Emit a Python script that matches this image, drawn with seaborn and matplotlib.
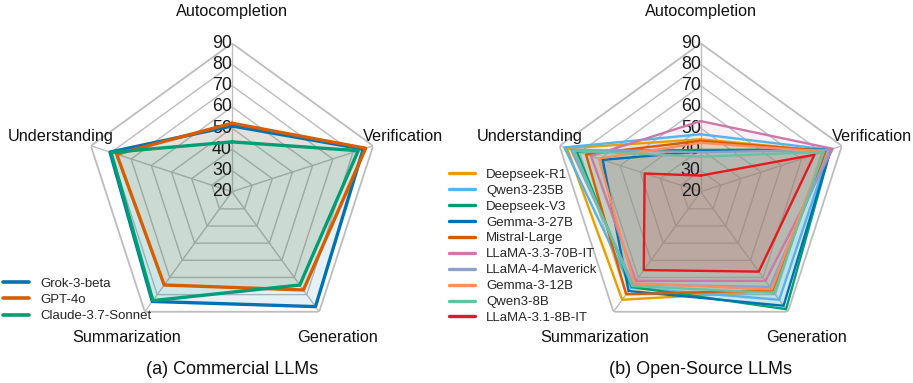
import numpy as np
import pandas as pd
import matplotlib
matplotlib.use("Agg")
import matplotlib.pyplot as plt
import seaborn as sns
from matplotlib.lines import Line2D

sns.set_theme(style="white")
plt.rcParams['font.family'] = ['Liberation Sans', 'DejaVu Sans']

categories = ["Autocompletion", "Verification", "Generation", "Summarization", "Understanding"]
r_ticks = [20, 30, 40, 50, 60, 70, 80, 90]

# Commercial LLMs
commercial_models = ["Grok-3-beta", "GPT-4o", "Claude-3.7-Sonnet"]
grok_3_beta = [51.0, 85.1, 87.0, 84.0, 80.5]
gpt_4o = [52.3, 86.3, 77.3, 74.4, 77.2]
claude_3_7 = [43.5, 82.6, 74.4, 83.5, 80.0]
commercial_values = [grok_3_beta, gpt_4o, claude_3_7]
commercial_colors = ["#0072B2", "#D55E00", "#009E73"]

# Open-source LLMs
open_models = ["Deepseek-R1", "Qwen3-235B", "Deepseek-V3", "Gemma-3-27B", "Mistral-Large",
               "LLaMA-3.3-70B-IT", "LLaMA-4-Maverick", "Gemma-3-12B", "Qwen3-8B", "LLaMA-3.1-8B-IT"]
deepseek_r1 = [44.7, 82.0, 78.0, 83.0, 86.3]
qwen3_235b = [47.1, 84.0, 83.0, 76.0, 87.6]
deepseek_v3 = [39.7, 84.5, 88.5, 75.5, 81.5]
gemma_3_27b = [39.0, 84.5, 86.5, 77.9, 68.6]
mistral_large = [44.0, 82.0, 77.5, 79.8, 76.9]
llama_3_3_70b = [53.3, 85.5, 72.0, 72.0, 74.4]
llama_4_maverick = [38.6, 84.0, 75.5, 74.0, 84.3]
gemma_3_12b = [43.1, 81.0, 77.0, 73.4, 70.6]
qwen3_8b = [36.5, 81.0, 79.0, 75.0, 82.7]
llama_3_1_8b = [27.6, 76.4, 66.6, 65.7, 47.8]
open_values = [deepseek_r1, qwen3_235b, deepseek_v3, gemma_3_27b, mistral_large,
               llama_3_3_70b, llama_4_maverick, gemma_3_12b, qwen3_8b, llama_3_1_8b]
open_colors = ["#E69F00", "#56B4E9", "#009E73", "#0072B2", "#D55E00",
               "#CC79A7", "#8DA0CB", "#FC8D62", "#66C2A5", "#E41A1C"]

W, H = 913, 383
fig = plt.figure(figsize=(W / 100, H / 100), dpi=100)

n = len(categories)
angles = np.linspace(0, 2 * np.pi, n, endpoint=False)
angles_closed = np.concatenate([angles, angles[:1]])


def make_long(models, values):
    rows = []
    for m, vals in zip(models, values):
        closed = list(vals) + [vals[0]]
        for i, (a, v) in enumerate(zip(angles_closed, closed)):
            rows.append({"model": m, "theta": a, "value": v, "order": i})
    return pd.DataFrame(rows)


def radar(ax, models, values, colors, lw):
    ax.set_theta_offset(np.pi / 2)
    ax.set_theta_direction(-1)
    ax.set_ylim(20, 90)
    ax.set_xticks([])
    ax.set_yticks([])
    ax.grid(False)
    ax.spines['polar'].set_visible(False)
    ax.set_facecolor('none')
    # polygon grid
    for r in r_ticks[1:]:
        ax.plot(angles_closed, [r] * (n + 1), color="#bdbdbd",
                lw=1.3 if r == r_ticks[-1] else 1.0, zorder=0.5)
    for a in angles:
        ax.plot([a, a], [r_ticks[0], r_ticks[-1]], color="#bdbdbd", lw=1.0, zorder=0.5)
    df = make_long(models, values)
    for m, vals, c in zip(models, values, colors):
        closed = list(vals) + [vals[0]]
        ax.fill(angles_closed, closed, color=c, alpha=0.1, lw=0, zorder=1)
    sns.lineplot(data=df, x="theta", y="value", hue="model", hue_order=models,
                 palette=colors, sort=False, estimator=None, units="model",
                 lw=lw, legend=False, ax=ax, zorder=3)
    ax.set_xlabel("")
    ax.set_ylabel("")
    for r in r_ticks:
        ax.text(0, r, str(r), ha="right", va="center", fontsize=12.8,
                color="#1a1a1a", zorder=2)
    for a, lab in zip(angles, categories):
        ax.text(a, 104.9, lab, ha="center", va="center", fontsize=11.7, color="#111111")


R = 148.4
cy = 191.7
for cx, models, values, colors, lw in [(232.0, commercial_models, commercial_values, commercial_colors, 2.4),
                                       (700.7, open_models, open_values, open_colors, 1.7)]:
    ax = fig.add_axes([(cx - R) / W, (H - cy - R) / H, 2 * R / W, 2 * R / H], projection="polar")
    radar(ax, models, values, colors, lw)

fig.text(232 / W, 1 - 369 / H, "(a) Commercial LLMs", ha="center", va="center", fontsize=13, color="#111111")
fig.text(700.5 / W, 1 - 369 / H, "(b) Open-Source LLMs", ha="center", va="center", fontsize=13, color="#111111")

h1 = [Line2D([], [], color=c, lw=2.6) for c in commercial_colors]
fig.legend(h1, commercial_models, loc="upper left", bbox_to_anchor=(3 / W, 1 - 277.5 / H),
           frameon=False, borderpad=0, borderaxespad=0, handlelength=2.0, handletextpad=0.8,
           labelspacing=0.3, fontsize=9.5)
h2 = [Line2D([], [], color=c, lw=2.4) for c in open_colors]
fig.legend(h2, open_models, loc="upper left", bbox_to_anchor=(449 / W, 1 - 168.5 / H),
           frameon=False, borderpad=0, borderaxespad=0, handlelength=2.0, handletextpad=0.8,
           labelspacing=0.28, fontsize=9.5)

fig.savefig("out.png", dpi=100)
